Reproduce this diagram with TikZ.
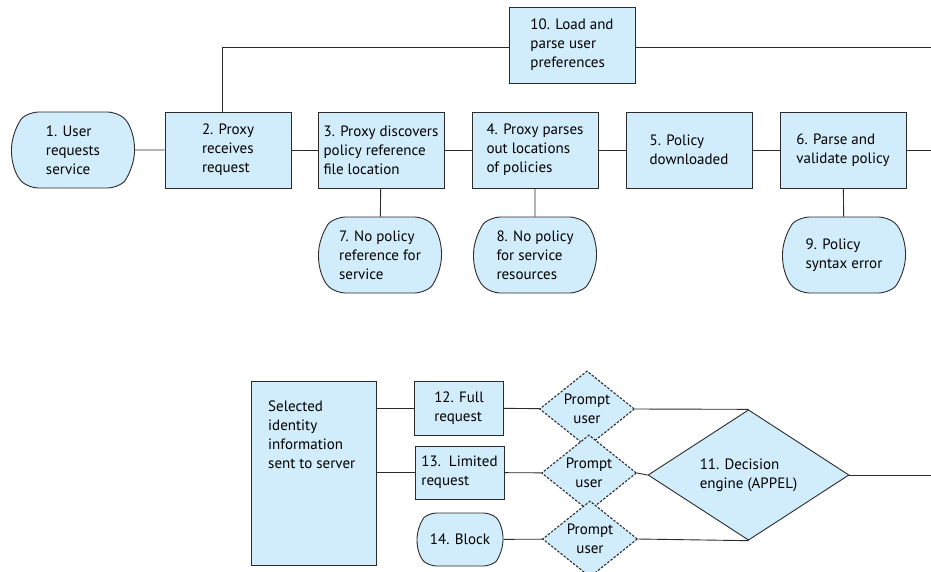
\documentclass[tikz,border=0pt]{standalone}
\usepackage{fontspec}
\setmainfont{PT Sans}
\usetikzlibrary{shapes.geometric,shapes.misc}
\definecolor{boxfill}{RGB}{209,236,250}
\definecolor{ink}{RGB}{45,42,43}
\tikzset{
  base/.style={draw=ink, line width=0.9pt, fill=boxfill, align=left, inner sep=2pt,
     font=\fontsize{15}{19}\selectfont},
  sqbox/.style={base, rectangle, minimum width=126, minimum height=76},
  rndbox/.style={base, rounded rectangle, rounded rectangle arc length=100, rounded corners=9pt, minimum width=127, minimum height=76},
  prompt/.style={base, diamond, minimum width=95, minimum height=62, inner sep=0pt, align=center,
     dash pattern=on 2.4pt off 1.6pt, line width=1.1pt},
  wire/.style={draw=ink, line width=0.9pt},
}
\begin{document}
\begin{tikzpicture}[x=1pt,y=-1pt]
\useasboundingbox (0,0) rectangle (931,571);
% top row
\node[rndbox] (n1) at (73,150) {1. User\\requests\\service};
\node[sqbox] (n2) at (228,150) {2. Proxy\\receives\\request};
\node[sqbox] (n3) at (381,150) {3. Proxy discovers\\policy reference\\file location};
\node[sqbox] (n4) at (535,150) {4. Proxy parses\\out locations\\of policies};
\node[sqbox] (n5) at (689,150) {5. Policy\\downloaded};
\node[sqbox] (n6) at (843,150) {6. Parse and\\validate policy};
\node[sqbox] (n10) at (572,45) {10. Load and\\parse user\\preferences};
\node[rndbox] (n7) at (380,255) {7. No policy\\reference for\\service};
\node[rndbox] (n8) at (535,255) {8. No policy\\for service\\resources};
\node[rndbox] (n9) at (844,255) {9. Policy\\syntax error};
\coordinate (r6) at (931,150);
\coordinate (r10) at (931,47);
\coordinate (c2) at (222,112);
% bottom
\node[base, rectangle, minimum width=125, minimum height=184] (sel) at (313.5,473) {};
\node[anchor=north west, inner sep=0pt, align=left, font=\fontsize{15}{19}\selectfont] (seltext) at (268,401)
  {Selected\\identity\\information\\sent to server};
\node[base, rectangle, minimum width=89, minimum height=54] (n12) at (459,408) {12. Full\\request};
\node[base, rectangle, minimum width=89, minimum height=53] (n13) at (459.5,472.5) {13.\ \ Limited\\request};
\node[base, rounded rectangle, rounded rectangle arc length=100, rounded corners=7pt, minimum width=90, minimum height=53] (n14) at (460,539.5) {14. Block};
\node[prompt] (p1) at (587,409) {Prompt\\user};
\node[prompt] (p2) at (589,473) {Prompt\\user};
\node[prompt] (p3) at (590,539) {Prompt\\user};
\node[base, diamond, minimum width=201, minimum height=130, inner sep=0pt] (n11) at (748.5,475) {11. Decision\\engine (APPEL)};
\coordinate (r11) at (931,475);
% connectors
\draw[wire] (n1) -- (n2);
\draw[wire] (n2) -- (n3);
\draw[wire] (n3) -- (n4);
\draw[wire] (n4) -- (n5);
\draw[wire] (n5) -- (n6);
\draw[wire] (n6) -- (r6);
\draw[wire] (n10.east |- r10) -- (r10);
\draw[wire] (n10.west |- r10) -| (c2);
\draw[wire] (n3) -- (n7);
\draw[wire] (n4) -- (n8);
\draw[wire] (n6) -- (n9);
\draw[wire] (sel.east |- n12) -- (n12);
\draw[wire] (sel.east |- n13) -- (n13);
\draw[wire] (n12) -- (p1);
\draw[wire] (n13) -- (p2);
\draw[wire] (n14) -- (p3);
\draw[wire] (p1.east) -- (n11.north);
\draw[wire] (p2.east) -- (n11.west);
\draw[wire] (p3.east) -- (n11.south);
\draw[wire] (n11.east) -- (r11);
\end{tikzpicture}
\end{document}
